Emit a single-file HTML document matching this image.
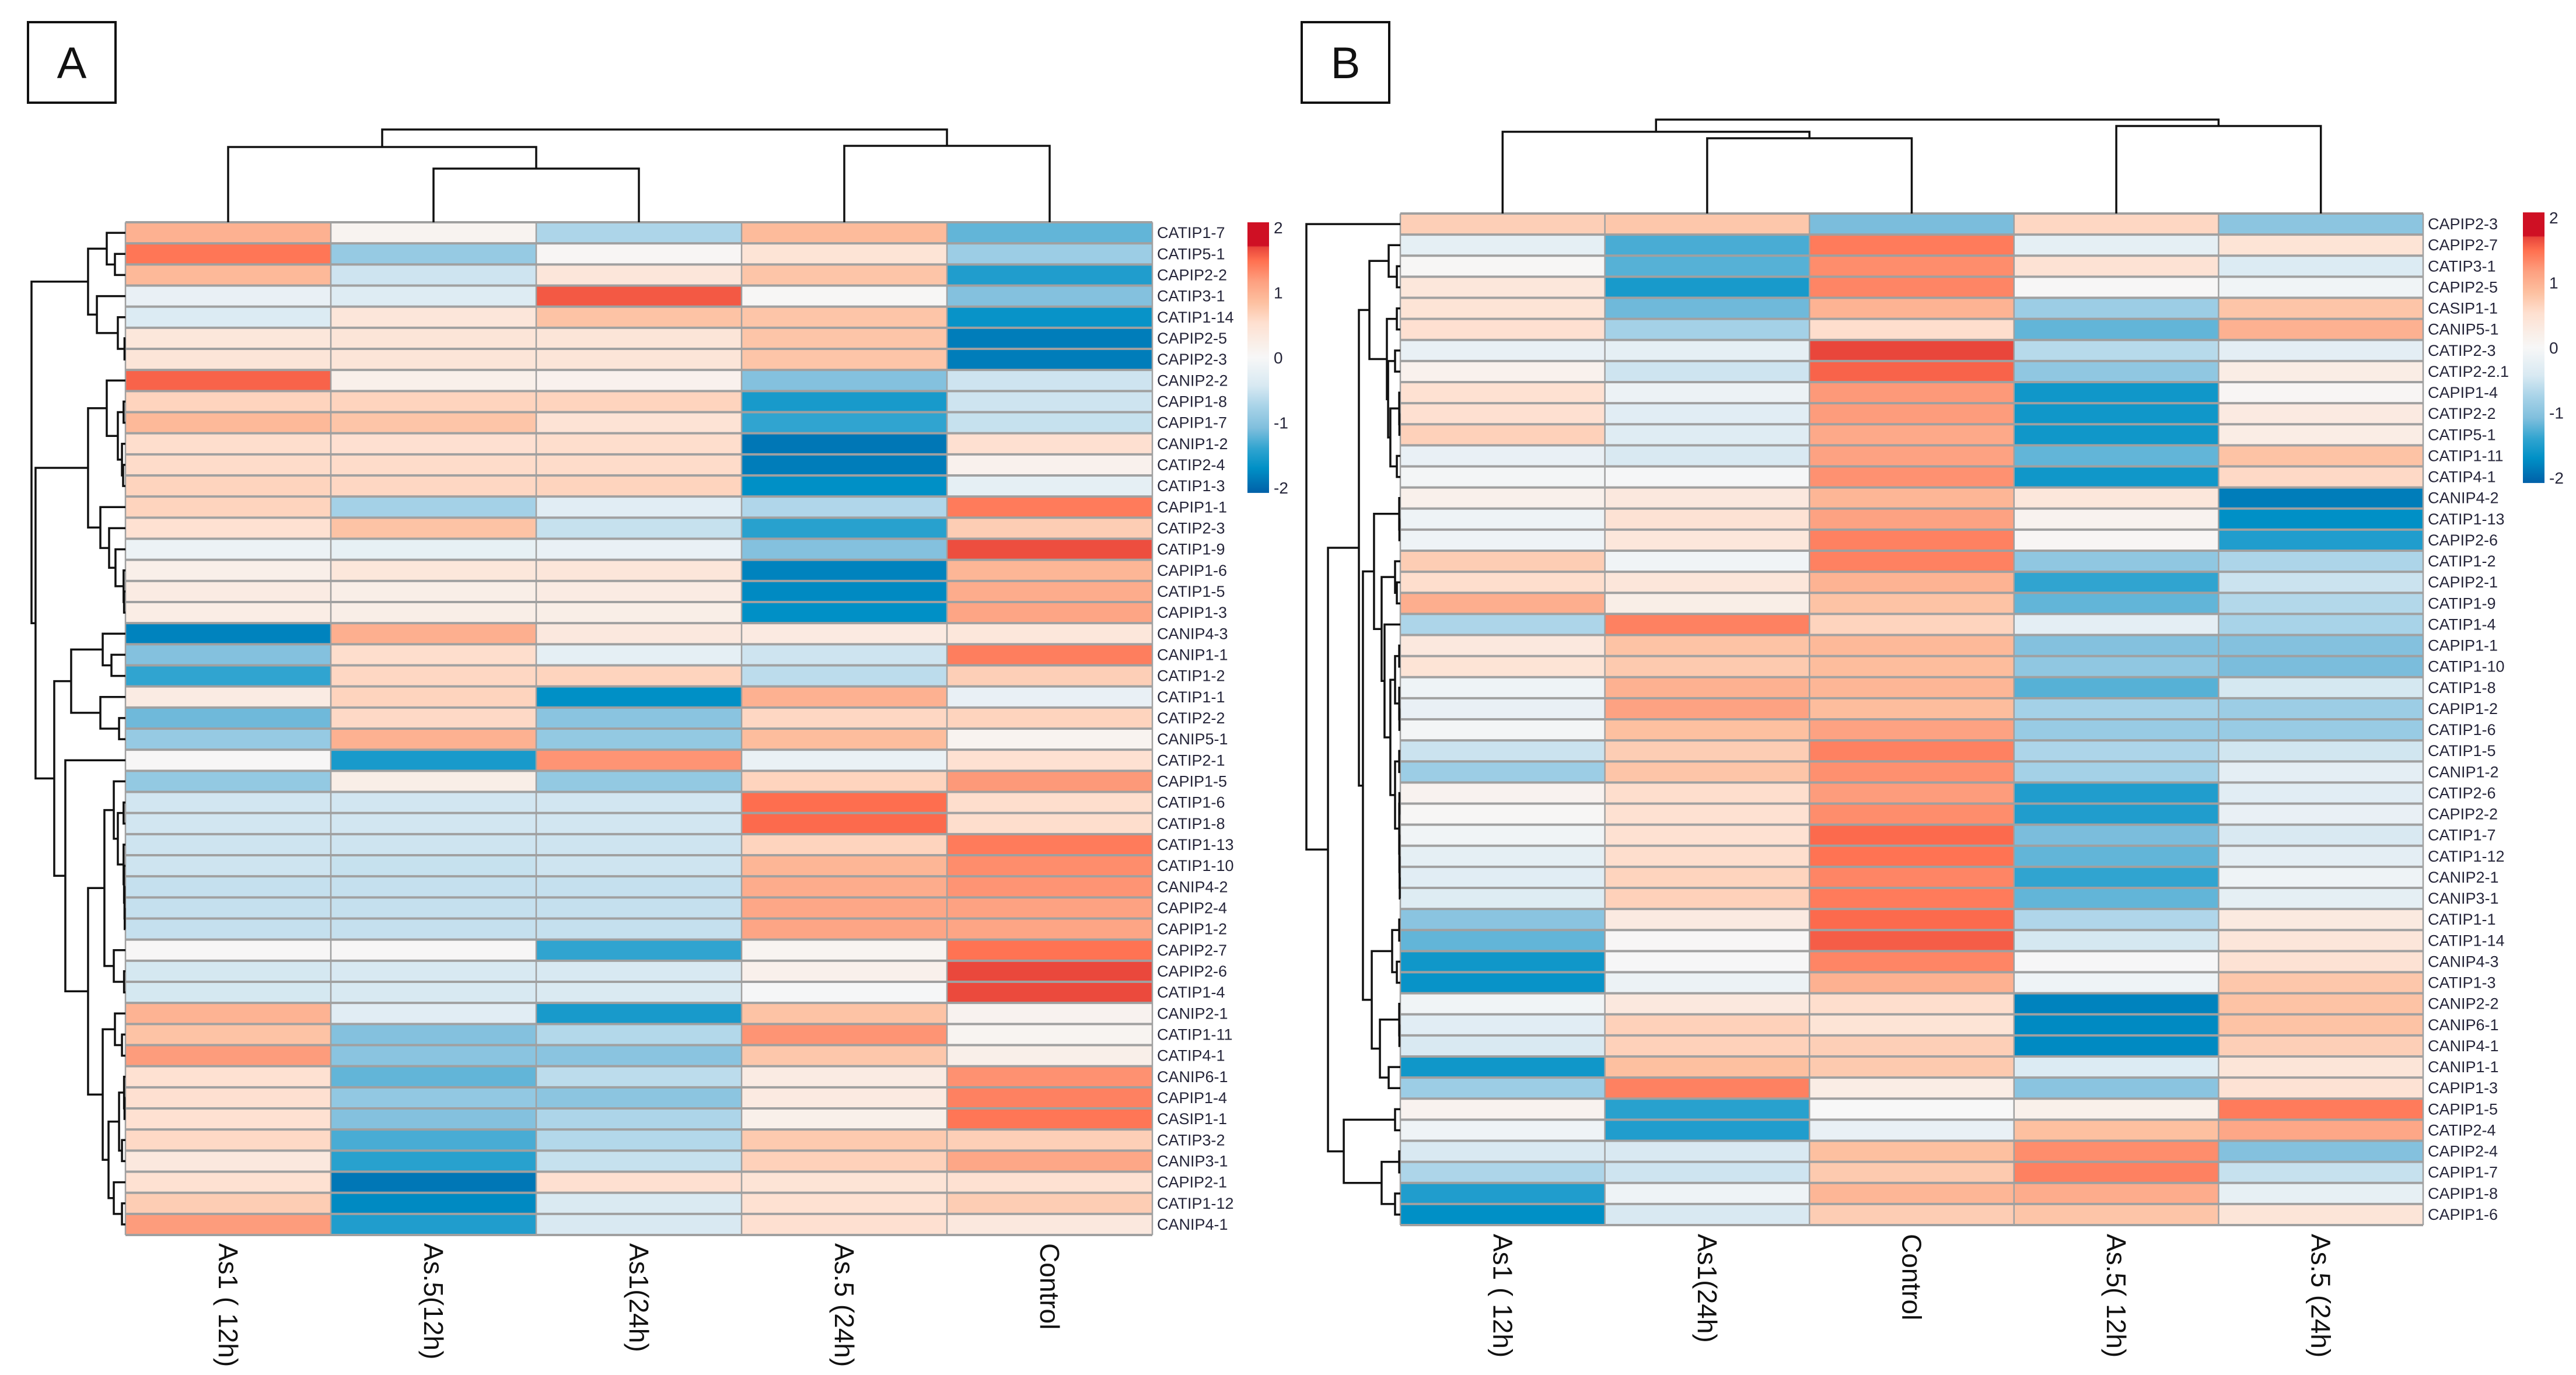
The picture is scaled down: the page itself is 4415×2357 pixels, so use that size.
<!DOCTYPE html>
<html lang="en">
<head>
<meta charset="utf-8">
<title>Heatmaps A and B</title>
<style>
  html, body { margin: 0; padding: 0; background: #fff; }
  svg { display: block; font-family: "Liberation Sans", Arial, sans-serif; }
</style>
</head>
<body>
<svg id="figure" xmlns="http://www.w3.org/2000/svg" width="4415" height="2357" viewBox="0 0 4415 2357">
  <rect x="0" y="0" width="4415" height="2357" fill="#ffffff"/>
  <g>
    <rect x="48" y="38" width="150" height="138" fill="#fff" stroke="#111" stroke-width="4"/>
    <text x="123" y="134" font-size="76" text-anchor="middle" fill="#111">A</text>
  </g>
  <g>
    <rect x="2231" y="38" width="150" height="138" fill="#fff" stroke="#111" stroke-width="4"/>
    <text x="2306" y="134" font-size="76" text-anchor="middle" fill="#111">B</text>
  </g>
  <g id="panel-a"></g>
  <g id="panel-b"></g>
</svg>
<script>
const legendTicks = [2, 1, 0, -1, -2];

const colsA = ["As1 ( 12h)", "As.5(12h)", "As1(24h)", "As.5 (24h)", "Control"];
const rowsA = ["CATIP1-7","CATIP5-1","CAPIP2-2","CATIP3-1","CATIP1-14","CAPIP2-5","CAPIP2-3","CANIP2-2","CAPIP1-8","CAPIP1-7","CANIP1-2","CATIP2-4","CATIP1-3","CAPIP1-1","CATIP2-3","CATIP1-9","CAPIP1-6","CATIP1-5","CAPIP1-3","CANIP4-3","CANIP1-1","CATIP1-2","CATIP1-1","CATIP2-2","CANIP5-1","CATIP2-1","CAPIP1-5","CATIP1-6","CATIP1-8","CATIP1-13","CATIP1-10","CANIP4-2","CAPIP2-4","CAPIP1-2","CAPIP2-7","CAPIP2-6","CATIP1-4","CANIP2-1","CATIP1-11","CATIP4-1","CANIP6-1","CAPIP1-4","CASIP1-1","CATIP3-2","CANIP3-1","CAPIP2-1","CATIP1-12","CANIP4-1"];
const valuesA = [
[1.0,0.1,-.72,.9,-1.2],
[1.45,-.9,.05,.45,-.85],
[.92,-.5,.4,.8,-1.5],
[-.2,-.35,1.6,.03,-1.05],
[-.38,.4,.82,.8,-1.65],
[.38,.42,.42,.8,-1.85],
[.42,.42,.42,.8,-1.85],
[1.55,.18,.15,-1.05,-.5],
[.65,.65,.65,-1.55,-.5],
[.92,.8,.47,-1.4,-.55],
[.55,.52,.55,-1.9,.52],
[.57,.57,.57,-1.85,.15],
[.65,.62,.65,-1.7,-.25],
[.65,-.78,-.3,-.7,1.42],
[.5,.82,-.55,-1.45,.72],
[-.15,-.22,-.2,-1.05,1.65],
[.2,.38,.4,-1.8,.95],
[.28,.22,.28,-1.75,1.05],
[.25,.22,.22,-1.7,1.12],
[-1.8,1.02,.35,.3,.38],
[-1.05,.55,-.25,-.5,1.4],
[-1.4,.62,.65,-.62,.7],
[.28,.65,-1.7,1.0,-.2],
[-1.15,.6,-1.0,.62,.65],
[-.9,1.0,-.92,.88,.1],
[.02,-1.55,1.25,-.18,.5],
[-.92,.22,-.92,.65,1.22],
[-.47,-.47,-.47,1.5,.55],
[-.47,-.47,-.47,1.52,.55],
[-.5,-.5,-.5,.65,1.42],
[-.5,-.55,-.5,.95,1.3],
[-.56,-.56,-.56,1.05,1.25],
[-.56,-.56,-.56,1.1,1.15],
[-.56,-.56,-.56,1.12,1.12],
[.02,.02,-1.4,.08,1.47],
[-.45,-.43,-.43,.17,1.68],
[-.45,-.43,-.4,-.03,1.67],
[.98,-.3,-1.55,.82,.12],
[.82,-1.05,-.68,1.25,.08],
[1.2,-1.0,-1.0,.78,.2],
[.5,-1.2,-.62,.28,1.27],
[.52,-.93,-.98,.3,1.38],
[.5,-1.05,-.72,.18,1.45],
[.6,-1.3,-.68,.75,.7],
[.35,-1.45,-.55,.68,1.1],
[.5,-1.9,.52,.45,.5],
[.72,-1.75,-.4,.5,.72],
[1.2,-1.5,-.42,.52,.35]
];
const rowTreeA = [100,
  [39.8,
    [19.9, 0, [11.2, 1, 2]],
    [30.4, 3, [8.1, 4, [1, 5, 6]]]
  ],
  [95.7,
    [39.8,
      [19.9, 7, [8.1, [2, 8, 9], [3.7, 10, [2.5, 11, 12]]]],
      [26.7, 13, [17.4, 14, [10.6, 15, [2, 16, [1.5, 17, 18]]]]]
    ],
    [75.8,
      [57.8,
        [24.2, 19, [14.9, 20, 21]],
        [26.7, 22, [6.8, 23, 24]]
      ],
      [64, 25,
        [39.8,
          [22.4,
            [12.4, 26, [8.1, [2, 27, 28], [2, 29, [1.5, 30, [1, 31, [.8, 32, 33]]]]]],
            [12.4, 34, [1.5, 35, 36]]
          ],
          [24.2,
            [11.2, 37, [3.7, 38, 39]],
            [18,
              [6.8, [1.5, 40, [1, 41, 42]], [3.7, 43, 44]],
              [12.4, 45, [3.7, 46, 47]]
            ]
          ]
        ]
      ]
    ]
  ]
];
const colTreeA = [100, [81.1, 0, [57.9, 1, 2]], [82.4, 3, 4]];

const colsB = ["As1 ( 12h)", "As1(24h)", "Control", "As.5( 12h)", "As.5 (24h)"];
const rowsB = ["CAPIP2-3","CAPIP2-7","CATIP3-1","CAPIP2-5","CASIP1-1","CANIP5-1","CATIP2-3","CATIP2-2.1","CAPIP1-4","CATIP2-2","CATIP5-1","CATIP1-11","CATIP4-1","CANIP4-2","CATIP1-13","CAPIP2-6","CATIP1-2","CAPIP2-1","CATIP1-9","CATIP1-4","CAPIP1-1","CATIP1-10","CATIP1-8","CAPIP1-2","CATIP1-6","CATIP1-5","CANIP1-2","CATIP2-6","CAPIP2-2","CATIP1-7","CATIP1-12","CANIP2-1","CANIP3-1","CATIP1-1","CATIP1-14","CANIP4-3","CATIP1-3","CANIP2-2","CANIP6-1","CANIP4-1","CANIP1-1","CAPIP1-3","CAPIP1-5","CATIP2-4","CAPIP2-4","CAPIP1-7","CAPIP1-8","CAPIP1-6"];
const valuesB = [
[.7,.78,-1.1,.62,-.98],
[-.25,-1.3,1.42,-.25,.45],
[.03,-1.25,1.3,.48,-.38],
[.38,-1.55,1.35,.02,-.1],
[.45,-1.15,.98,-.85,.8],
[.52,-.78,.55,-1.2,1.0],
[-.2,-.25,1.69,-.65,-.27],
[.15,-.5,1.55,-.95,.25],
[.5,-.15,1.22,-1.6,.05],
[.52,-.3,1.2,-1.6,.3],
[.68,-.33,1.08,-1.6,.25],
[-.2,-.42,1.15,-1.2,.82],
[-.05,-.03,1.27,-1.6,.6],
[.17,.35,.95,.38,-1.85],
[-.12,.48,1.15,.12,-1.7],
[-.12,.38,1.38,.05,-1.5],
[.72,-.1,1.38,-.95,-.72],
[.55,.4,.98,-1.4,-.52],
[1.03,.22,.82,-1.2,-.68],
[-.72,1.38,.65,-.27,-.75],
[.35,.82,.92,-1.05,-1.05],
[.45,.75,.88,-.95,-1.1],
[-.12,1.0,.95,-1.25,-.45],
[-.2,1.15,.88,-.78,-.85],
[-.05,.85,1.15,-.88,-.88],
[-.52,.72,1.38,-.72,-.48],
[-.85,.8,1.28,-.78,-.27],
[.12,.55,1.2,-1.5,-.3],
[.03,.5,1.3,-1.5,-.2],
[-.1,.5,1.52,-1.1,-.42],
[-.25,.55,1.47,-1.2,-.27],
[-.3,.65,1.35,-1.4,-.12],
[-.35,.68,1.42,-1.2,-.25],
[-1.0,.3,1.52,-.7,.32],
[-1.2,.02,1.58,-.45,.4],
[-1.6,-.02,1.35,-.02,.48],
[-1.65,-.15,1.0,-.12,.78],
[-.1,.35,.55,-1.8,.82],
[-.3,.68,.45,-1.75,.82],
[-.42,.68,.7,-1.75,.7],
[-1.6,.85,.75,-.38,.42],
[-.85,1.38,.25,-1.0,.48],
[.12,-1.45,0,.18,1.42],
[-.12,-1.5,-.2,.85,1.1],
[-.42,-.42,.85,1.3,-1.05],
[-.72,-.5,.75,1.38,-.55],
[-1.5,-.12,.95,1.05,-.22],
[-1.7,-.42,.72,.8,.42]
];
const rowTreeB = [100, 0,
  [77,
    [44.1,
      [32.9,
        [12.4, 1, [3.7, 2, 3]],
        [14.3,
          [3.7, 4, 5],
          [13,
            [5.6, 6, 7],
            [10.6, [1.2, 8, [1, 9, 10]], [3.7, 11, 12]]
          ]
        ]
      ],
      [39.8,
        [28,
          [1.2, 13, [1, 14, 15]],
          [19.9,
            [5.6, 16, [3.7, 17, 18]],
            [16.8, 19,
              [10.6,
                [5.6, [1.2, 20, 21], [1.2, 22, [1, 23, 24]]],
                [5.6, [1.2, 25, 26],
                  [1.2, [1, 27, 28], [1, 29, [.8, 30, [.6, 31, 32]]]]
                ]
              ]
            ]
          ]
        ],
        [30.4,
          [8.7, [1.2, 33, 34], [3.7, 35, 36]],
          [21.7, [1.2, 37, [1, 38, 39]], [12.4, 40, 41]]
        ]
      ]
    ],
    [60.2,
      [5.6, 42, 43],
      [19.9, [1.2, 44, 45], [5.6, 46, 47]]
    ]
  ]
];
const colTreeB = [100, [87, 0, [80.1, 1, 2]], [93.2, 3, 4]];

const colourStops = [
  [-2.08, [0, 96, 168]], [-1.7, [0, 144, 198]], [-1.4, [48, 164, 208]],
  [-1.08, [128, 191, 221]], [-.75, [168, 211, 232]], [-.43, [216, 233, 242]],
  [0, [247, 247, 247]], [.2, [249, 239, 233]], [.53, [254, 224, 208]],
  [.85, [253, 192, 160]], [1.17, [253, 160, 128]], [1.49, [255, 112, 80]],
  [1.7, [232, 68, 58]], [1.72, [207, 16, 36]], [2.08, [207, 16, 36]]
];

function colour(z) {
  const s = colourStops;
  if (z <= s[0][0]) return 'rgb(' + s[0][1].join(',') + ')';
  for (let i = 1; i < s.length; i++) {
    if (z <= s[i][0]) {
      const t = (z - s[i - 1][0]) / (s[i][0] - s[i - 1][0]);
      const c = s[i - 1][1].map((v, k) => Math.round(v + (s[i][1][k] - v) * t));
      return 'rgb(' + c.join(',') + ')';
    }
  }
  return 'rgb(' + s[s.length - 1][1].join(',') + ')';
}

const NS = 'http://www.w3.org/2000/svg';
function make(parent, tag, attrs, text) {
  const el = document.createElementNS(NS, tag);
  for (const k in attrs) el.setAttribute(k, attrs[k]);
  if (text !== undefined) el.textContent = text;
  parent.appendChild(el);
  return el;
}

function drawBranches(parent, node, leafPos, heightPos, horizontal, name) {
  if (typeof node === 'number') return leafPos(node);
  const h = node[0];
  const a = drawBranches(parent, node[1], leafPos, heightPos, horizontal, name);
  const b = drawBranches(parent, node[2], leafPos, heightPos, horizontal, name);
  const ha = typeof node[1] === 'number' ? 0 : node[1][0];
  const hb = typeof node[2] === 'number' ? 0 : node[2][0];
  const d = horizontal
    ? 'M' + heightPos(ha) + ' ' + a + 'H' + heightPos(h) + 'V' + b + 'H' + heightPos(hb)
    : 'M' + a + ' ' + heightPos(ha) + 'V' + heightPos(h) + 'H' + b + 'V' + heightPos(hb);
  const branch = make(parent, 'path', { d: d, fill: 'none', stroke: '#111111', 'stroke-width': 3.5 });
  
  
  return (a + b) / 2;
}

function drawPanel(id, cols, rows, values, rowTree, colTree, g) {
  const root = document.getElementById(id);
  const colW = (g.right - g.left) / cols.length;
  const rowH = (g.bottom - g.top) / rows.length;
  const xOf = c => g.left + c * colW;
  const yOf = r => g.top + r * rowH;

  const cells = make(root, 'g', {});
  
  
  values.forEach((row, r) => {
    row.forEach((v, c) => {
      const cell = make(cells, 'rect', { x: xOf(c), y: yOf(r), width: colW + .5, height: rowH + .5, fill: colour(v) });
      
      
    });
  });

  const grid = make(root, 'g', { stroke: '#a0a0a0' });
  
  
  for (let r = 0; r <= rows.length; r++) {
    make(grid, 'line', { x1: g.left, x2: g.right, y1: yOf(r), y2: yOf(r), 'stroke-width': 4 });
  }
  for (let c = 0; c <= cols.length; c++) {
    make(grid, 'line', { x1: xOf(c), x2: xOf(c), y1: g.top, y2: g.bottom, 'stroke-width': 2.5 });
  }

  const rowLabels = make(root, 'g', { 'font-size': 27, fill: '#26263a' });
  
  
  rows.forEach((label, r) => {
    const t = make(rowLabels, 'text', { x: g.right + 8, y: yOf(r) + rowH / 2 + 9 }, label);
    
    
  });

  const colLabels = make(root, 'g', { 'font-size': 46, fill: '#111111' });
  
  
  cols.forEach((label, c) => {
    const cx = xOf(c) + colW / 2 - 16;
    const t = make(colLabels, 'text', { transform: 'translate(' + cx + ' ' + g.labelTop + ') rotate(90)' }, label);
    
    
  });

  const rowDendro = make(root, 'g', {});
  
  
  drawBranches(rowDendro, rowTree, r => yOf(r) + rowH / 2, h => g.left - h * g.rowDendroScale, true, 'row-dendrogram-branch');

  const colDendro = make(root, 'g', {});
  
  
  drawBranches(colDendro, colTree, c => xOf(c) + colW / 2, h => g.top - h * g.colDendroScale, false, 'column-dendrogram-branch');

  const legend = make(root, 'g', {});
  
  
  const gradId = id + '-gradient';
  const defs = make(legend, 'defs', {});
  const grad = make(defs, 'linearGradient', { id: gradId, x1: 0, y1: 0, x2: 0, y2: 1 });
  colourStops.slice().reverse().forEach(stop => {
    make(grad, 'stop', { offset: (2.08 - stop[0]) / 4.16, 'stop-color': 'rgb(' + stop[1].join(',') + ')' });
  });
  const legendY = z => g.legendMid - z * g.legendUnit;
  const bar = make(legend, 'rect', {
    x: g.legendX, y: legendY(2.08), width: 37, height: legendY(-2.08) - legendY(2.08), fill: 'url(#' + gradId + ')'
  });
  
  
  legendTicks.forEach(z => {
    const t = make(legend, 'text', { x: g.legendX + 45, y: legendY(z) + 10, 'font-size': 28, fill: '#26263a' }, String(z));
    
    
  });
}

drawPanel('panel-a', colsA, rowsA, valuesA, rowTreeA, colTreeA, {
  left: 215, right: 1975, top: 381, bottom: 2117, labelTop: 2131,
  rowDendroScale: 1.61, colDendroScale: 1.59,
  legendX: 2138, legendMid: 613, legendUnit: 111.5
});
drawPanel('panel-b', colsB, rowsB, valuesB, rowTreeB, colTreeB, {
  left: 2400, right: 4153, top: 366, bottom: 2100, labelTop: 2115,
  rowDendroScale: 1.61, colDendroScale: 1.61,
  legendX: 4324, legendMid: 596, legendUnit: 111.5
});
</script>
</body>
</html>
